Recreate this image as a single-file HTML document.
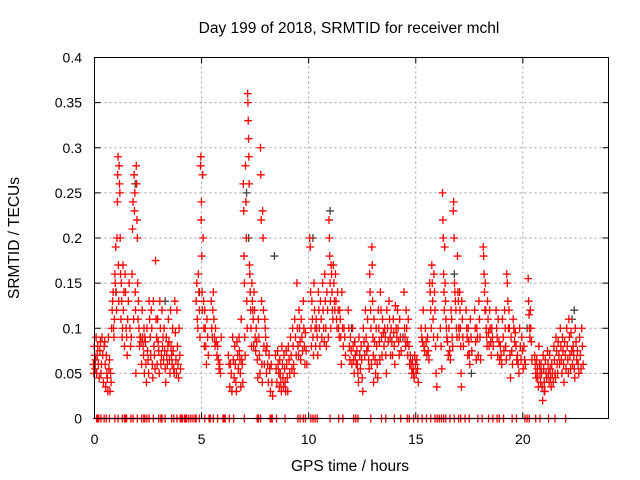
<!DOCTYPE html>
<html><head><meta charset="utf-8">
<style>
html,body{margin:0;padding:0;background:#fff;}
svg{display:block;font-family:"Liberation Sans",sans-serif;}
</style></head>
<body>
<svg id="chart" width="640" height="480" viewBox="0 0 640 480" xmlns="http://www.w3.org/2000/svg">
<rect width="640" height="480" fill="#fff"/>
<g id="grid"></g>
<g id="ticks"></g>
<g id="marks"></g>
<rect x="94.5" y="57.5" width="514" height="361" fill="none" stroke="#000" stroke-width="1"/>
<text x="349" y="33" font-size="15.5" text-anchor="middle">Day 199 of 2018, SRMTID for receiver mchl</text>
<text x="350" y="471" font-size="15.5" text-anchor="middle">GPS time / hours</text>
<text transform="translate(19,238) rotate(-90)" font-size="15.5" text-anchor="middle">SRMTID / TECUs</text>
</svg>
<script>
const xTicks=[0,5,10,15,20];
const yTicks=[0,0.05,0.1,0.15,0.2,0.25,0.3,0.35,0.4];
const yTickLabels=["0","0.05","0.1","0.15","0.2","0.25","0.3","0.35","0.4"];
const redHours=[0.0,0.1,0.2,0.3,0.4,0.5,0.6,0.7,0.8,0.9,1.0,1.1,1.2,1.3,1.4,1.5,1.6,1.7,1.8,1.9,2.0,2.1,2.2,2.3,2.4,2.5,2.6,2.7,2.8,2.9,3.0,3.1,3.2,3.3,3.4,3.5,3.6,3.7,3.8,3.9,4.0,4.8,4.9,5.0,5.1,5.2,5.3,5.5,5.6,5.7,5.8,5.9,6.3,6.4,6.5,6.6,6.7,6.8,6.9,7.0,7.1,7.2,7.3,7.4,7.5,7.6,7.7,7.8,7.9,8.0,8.1,8.2,8.3,8.5,8.6,8.7,8.8,8.9,9.0,9.1,9.2,9.3,9.4,9.5,9.6,9.7,9.8,9.9,10.1,10.2,10.3,10.4,10.5,10.6,10.7,10.8,10.9,11.0,11.1,11.2,11.3,11.4,11.5,11.6,11.7,11.9,12.0,12.1,12.2,12.3,12.4,12.5,12.6,12.7,12.8,12.9,13.0,13.1,13.2,13.3,13.4,13.5,13.6,13.7,13.8,13.9,14.0,14.1,14.2,14.3,14.5,14.6,14.7,14.8,14.9,15.0,15.1,15.3,15.4,15.5,15.6,15.7,15.8,15.9,16.0,16.2,16.3,16.4,16.5,16.6,16.7,16.8,16.9,17.0,17.1,17.2,17.4,17.5,17.6,17.8,17.9,18.0,18.2,18.3,18.4,18.5,18.6,18.8,18.9,19.0,19.1,19.2,19.3,19.4,19.5,19.6,19.7,19.8,19.9,20.0,20.1,20.3,20.4,20.6,20.7,20.8,20.9,21.0,21.1,21.2,21.3,21.4,21.5,21.6,21.7,21.8,21.9,22.0,22.1,22.2,22.3,22.4,22.5,22.6,22.7,22.8];
const redValues=[[0.06,0.05,0.08,0.07,0.055],[0.065,0.09,0.05,0.07],[0.08,0.06,0.045],[0.075,0.085,0.05,0.06],[0.09,0.07,0.04],[0.08,0.085,0.06,0.035],[0.07,0.05,0.045,0.03],[0.09,0.055,0.065,0.03],[0.05,0.04,0.1,0.12],[0.13,0.14,0.1,0.09,0.11],[0.16,0.15,0.19,0.14,0.12],[0.2,0.24,0.27,0.29,0.17,0.13],[0.28,0.26,0.25,0.2,0.16,0.11],[0.15,0.13,0.09,0.1,0.17],[0.12,0.14,0.08,0.16],[0.14,0.1,0.09,0.07],[0.11,0.13,0.15],[0.1,0.08,0.09],[0.16,0.21,0.24,0.11],[0.27,0.23,0.25,0.14,0.12,0.05],[0.28,0.26,0.22,0.2,0.15,0.11],[0.13,0.1,0.08,0.09],[0.09,0.085,0.06,0.12],[0.09,0.08,0.07,0.1,0.05],[0.09,0.085,0.06,0.04],[0.1,0.075,0.065,0.05],[0.13,0.11,0.09,0.07],[0.12,0.1,0.06,0.045],[0.13,0.08,0.07,0.055],[0.175,0.11,0.09,0.06],[0.11,0.085,0.075,0.05],[0.13,0.1,0.06,0.07],[0.12,0.08,0.09,0.065],[0.1,0.075,0.055,0.04],[0.09,0.07,0.06,0.08],[0.11,0.085,0.065,0.05],[0.12,0.08,0.07,0.06],[0.1,0.075,0.055,0.05],[0.13,0.095,0.065,0.05],[0.12,0.08,0.06,0.045],[0.1,0.07,0.055],[0.13,0.15,0.11,0.1],[0.16,0.14,0.12,0.09],[0.28,0.29,0.22,0.24,0.18,0.14,0.12],[0.27,0.2,0.13,0.1,0.08],[0.12,0.1,0.08,0.06],[0.11,0.09,0.07],[0.13,0.1,0.09,0.12],[0.14,0.11,0.09,0.08],[0.1,0.085,0.07],[0.08,0.065,0.055],[0.06,0.05,0.09],[0.07,0.06,0.035],[0.06,0.05,0.03],[0.09,0.065,0.045],[0.08,0.06,0.04,0.03],[0.085,0.07,0.055],[0.09,0.075,0.065,0.05,0.035],[0.11,0.065,0.06,0.04],[0.26,0.23,0.18,0.15,0.09,0.07],[0.28,0.24,0.2,0.13,0.1],[0.36,0.35,0.33,0.31,0.29,0.26,0.17],[0.16,0.14,0.12,0.1,0.08],[0.15,0.13,0.12,0.11,0.08],[0.14,0.12,0.09,0.075],[0.1,0.085,0.065,0.045],[0.11,0.09,0.07,0.05],[0.3,0.27,0.22,0.13,0.06,0.04],[0.23,0.2,0.12,0.08,0.06],[0.11,0.1,0.09,0.075,0.05],[0.08,0.06,0.04],[0.07,0.055,0.03],[0.06,0.04,0.025],[0.07,0.055,0.04],[0.075,0.06,0.05,0.035],[0.065,0.05,0.04,0.03],[0.08,0.06,0.045,0.035],[0.07,0.055,0.04,0.03],[0.075,0.06,0.045,0.03],[0.08,0.065,0.05],[0.09,0.07,0.055],[0.1,0.08,0.06,0.05],[0.11,0.09,0.07],[0.15,0.1,0.08,0.07],[0.12,0.1,0.085,0.065],[0.11,0.09,0.075],[0.13,0.1,0.08,0.06],[0.095,0.075,0.06],[0.2,0.19,0.14,0.1,0.08],[0.13,0.11,0.09,0.07],[0.15,0.12,0.1,0.08],[0.11,0.1,0.09,0.07],[0.14,0.12,0.1,0.08],[0.13,0.11,0.09],[0.15,0.12,0.1,0.085],[0.16,0.13,0.1,0.08],[0.14,0.12,0.09],[0.22,0.2,0.18,0.15,0.13,0.1],[0.17,0.16,0.14,0.12,0.11],[0.17,0.15,0.13,0.12],[0.16,0.13,0.11,0.1],[0.14,0.12,0.1,0.09],[0.12,0.11,0.09,0.06],[0.14,0.1,0.08],[0.1,0.09,0.07],[0.12,0.1,0.08,0.065],[0.09,0.075,0.06],[0.1,0.08,0.065,0.05],[0.085,0.07,0.06],[0.075,0.06,0.05,0.04],[0.09,0.07,0.055],[0.08,0.065,0.045,0.03],[0.1,0.085,0.07],[0.12,0.09,0.075],[0.11,0.08,0.065,0.055],[0.16,0.14,0.12,0.1,0.06],[0.19,0.17,0.13,0.09,0.07,0.04],[0.11,0.085,0.065,0.05],[0.1,0.08,0.06,0.045],[0.12,0.1,0.085,0.065],[0.14,0.12,0.09,0.07],[0.11,0.095,0.08],[0.1,0.09,0.07,0.05],[0.12,0.1,0.085],[0.13,0.11,0.09,0.07],[0.1,0.085,0.07],[0.11,0.095,0.08,0.06],[0.125,0.1,0.09],[0.12,0.1,0.085,0.07],[0.11,0.09,0.075],[0.14,0.1,0.09,0.08],[0.12,0.1,0.085,0.07],[0.11,0.08,0.06],[0.07,0.06,0.05],[0.065,0.055,0.05,0.045],[0.07,0.06,0.05],[0.065,0.055,0.04],[0.1,0.09,0.085],[0.12,0.08,0.075],[0.1,0.085,0.07],[0.09,0.075,0.065],[0.15,0.14,0.12,0.1],[0.17,0.15,0.13,0.11,0.09],[0.16,0.14,0.12,0.08],[0.05,0.035,0.09],[0.1,0.08,0.055],[0.25,0.22,0.2,0.16,0.14,0.12],[0.19,0.15,0.13,0.11,0.1],[0.09,0.085,0.07],[0.1,0.075,0.065],[0.12,0.11,0.09,0.08],[0.23,0.24,0.2,0.15,0.14],[0.13,0.12,0.1,0.09],[0.18,0.14,0.13,0.1,0.09],[0.14,0.12,0.1,0.08,0.05,0.035],[0.13,0.11,0.09,0.08],[0.12,0.1,0.09,0.07],[0.1,0.085,0.07,0.06],[0.11,0.09,0.075],[0.12,0.1,0.085,0.065],[0.1,0.09,0.07],[0.13,0.11,0.09,0.065],[0.19,0.18,0.16,0.14,0.12],[0.15,0.12,0.1,0.09,0.08],[0.13,0.11,0.095,0.08],[0.12,0.1,0.085,0.07],[0.1,0.09,0.08],[0.12,0.1,0.09,0.07],[0.11,0.085,0.065],[0.08,0.07,0.06],[0.11,0.09,0.075],[0.12,0.1,0.08,0.065],[0.16,0.15,0.13,0.1],[0.12,0.1,0.07,0.045],[0.09,0.075,0.06],[0.11,0.1,0.085],[0.095,0.08,0.065],[0.07,0.06,0.05],[0.1,0.08,0.065],[0.09,0.075,0.055],[0.08,0.065,0.06],[0.155,0.13,0.115,0.1,0.09],[0.12,0.1,0.085,0.065],[0.07,0.06,0.05,0.045],[0.065,0.055,0.045,0.035],[0.08,0.06,0.05,0.04],[0.06,0.05,0.035,0.02],[0.07,0.055,0.04,0.03],[0.065,0.05,0.045],[0.075,0.06,0.05,0.04],[0.07,0.055,0.045,0.035],[0.06,0.05,0.04],[0.08,0.065,0.05,0.045],[0.09,0.075,0.06,0.05],[0.085,0.07,0.06],[0.1,0.08,0.065,0.05],[0.09,0.075,0.06,0.04],[0.085,0.07,0.055],[0.1,0.08,0.065,0.05],[0.11,0.09,0.07,0.055],[0.095,0.075,0.06],[0.08,0.07,0.055,0.045],[0.1,0.085,0.065],[0.075,0.06,0.05],[0.09,0.07,0.055],[0.1,0.08,0.06]];
const grayHours=[1.0,1.9,3.3,4.9,7.1,7.2,8.4,10.2,11.0,12.0,14.4,16.8,17.6,20.2,21.0,22.3,22.4];
const grayValues=[0.14,0.26,0.13,0.14,0.25,0.2,0.18,0.2,0.23,0.1,0.09,0.16,0.05,0.1,0.03,0.11,0.12];
const zeroHours=[0.1,0.15,0.2,0.3,0.45,0.55,0.7,0.95,1.1,1.3,1.4,1.45,1.5,1.7,1.8,2.0,2.2,2.3,2.35,2.45,2.55,2.75,3.0,3.1,3.15,3.3,3.6,3.7,3.85,4.0,4.05,4.1,4.2,4.25,4.3,4.4,4.5,4.6,4.7,4.75,4.9,5.15,5.35,5.4,5.55,5.75,6.0,6.05,6.1,6.3,6.5,7.0,7.6,7.65,7.75,8.2,8.25,8.3,8.5,8.9,9.5,9.6,9.75,9.85,10.1,10.2,10.3,10.4,11.0,11.4,11.6,12.1,12.2,12.3,12.9,13.4,13.6,14.0,14.3,14.6,14.7,14.9,15.1,15.3,15.5,15.7,15.9,16.0,16.1,16.2,16.3,16.4,16.6,16.8,17.0,17.1,17.3,17.5,17.9,18.1,18.4,18.6,18.8,18.9,19.1,19.5,19.7,20.1,20.2,20.3,20.6,20.8,21.2,21.5,22.0];

const NS="http://www.w3.org/2000/svg";
const X0=94.5,X1=608.5,Y0=418.5,Y1=57.5;
function xs(h){return X0+(h/24)*(X1-X0);}
function ys(v){return Y0-(v/0.4)*(Y0-Y1);}
function mk(tag,attrs,parent){const e=document.createElementNS(NS,tag);for(const k in attrs)e.setAttribute(k,attrs[k]);parent.appendChild(e);return e;}
const grid=document.getElementById('grid'),ticks=document.getElementById('ticks'),marks=document.getElementById('marks');
xTicks.forEach(function(t){
  const x=xs(t);
  if(t>0){const g=mk('line',{x1:x,y1:Y0,x2:x,y2:Y1,stroke:'#a0a0a0','stroke-dasharray':'2,3'},grid);
  
  }
  mk('line',{x1:x,y1:Y0,x2:x,y2:Y0-6,stroke:'#000'},ticks);
  mk('line',{x1:x,y1:Y1,x2:x,y2:Y1+6,stroke:'#000'},ticks);
  const l=mk('text',{x:x,y:444,'font-size':14,'text-anchor':'middle'},ticks);
  l.textContent=String(t);
  
  
});
yTicks.forEach(function(t,i){
  const y=ys(t);
  if(t>0&&t<0.4){const g=mk('line',{x1:X0,y1:y,x2:X1,y2:y,stroke:'#a0a0a0','stroke-dasharray':'2,3'},grid);
  
  }
  mk('line',{x1:X0,y1:y,x2:X0+6,y2:y,stroke:'#000'},ticks);
  mk('line',{x1:X1,y1:y,x2:X1-6,y2:y,stroke:'#000'},ticks);
  const l=mk('text',{x:82,y:y+5,'font-size':14,'text-anchor':'end'},ticks);
  l.textContent=yTickLabels[i];
  
  
});
function plus(x,y,color,name){
  const p=mk('path',{d:'M'+(x-4)+' '+y+'h8M'+x+' '+(y-4)+'v8',stroke:color,'stroke-width':1.3,fill:'none'},marks);
  
  
}
grayHours.forEach(function(h,i){plus(xs(h),ys(grayValues[i]),'#404040','gray-point');});
redHours.forEach(function(h,i){const n=redValues[i].length;redValues[i].forEach(function(v,j){plus(xs(h+0.1*(j/n-0.5)),ys(v),'#ff0000','red-point');});});
zeroHours.forEach(function(h){plus(xs(h),ys(0),'#ff0000','zero-point');});
</script>
</body></html>
